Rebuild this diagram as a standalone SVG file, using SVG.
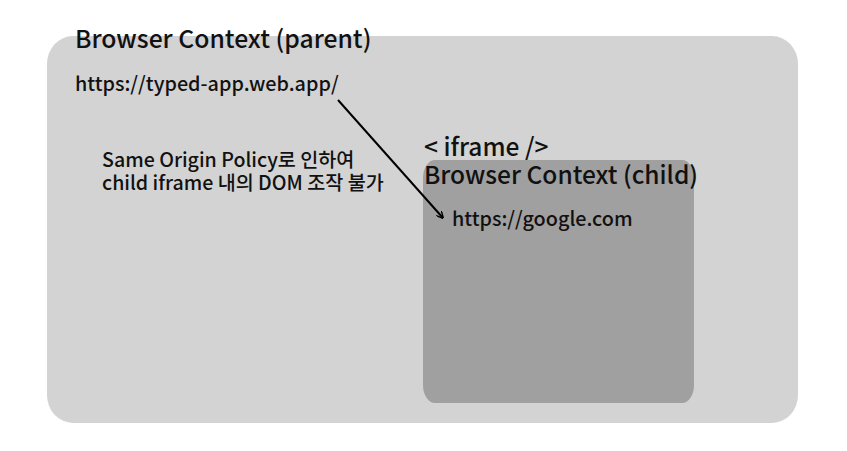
<svg xmlns="http://www.w3.org/2000/svg" width="847" height="451" viewBox="0 0 847 451">
<style>
text{font-family:"Noto Sans CJK KR","Noto Sans",sans-serif;fill:#111;font-weight:500}
.t{font-size:24.7px}
.c{font-size:24.5px}
.u{font-size:19.8px}
.k{font-size:19.6px}
</style>
<defs>
<marker id="ah" viewBox="0 0 10 10" refX="9" refY="5" markerWidth="7" markerHeight="7" orient="auto" markerUnits="userSpaceOnUse">
<path d="M0,0 L10,5 L0,10" fill="none" stroke="#000" stroke-width="2"/>
</marker>
</defs>
<rect width="847" height="451" fill="#fff"/>
<g id="parent">
<rect x="47" y="36" width="751" height="387" rx="26" ry="28" fill="#d3d3d3"/>
<text class="t" x="75" y="48">Browser Context (parent)</text>
<text class="u" x="75" y="91">https://typed-app.web.app/</text>
<text class="k" x="102" y="167">Same Origin Policy로 인하여</text>
<text class="k" x="102" y="190">child iframe 내의 DOM 조작 불가</text>
</g>
<g id="child">
<rect x="423" y="160" width="271" height="243" rx="12" ry="18" fill="#a0a0a0"/>
<text class="c" x="424" y="156">&lt; iframe /&gt;</text>
<text class="c" x="424" y="184">Browser Context (child)</text>
<text class="u" x="452" y="226">https://google.com</text>
</g>
<g id="connectors">
<line x1="338" y1="100" x2="443" y2="218" stroke="#000" stroke-width="2" marker-end="url(#ah)"/>
</g>
</svg>
